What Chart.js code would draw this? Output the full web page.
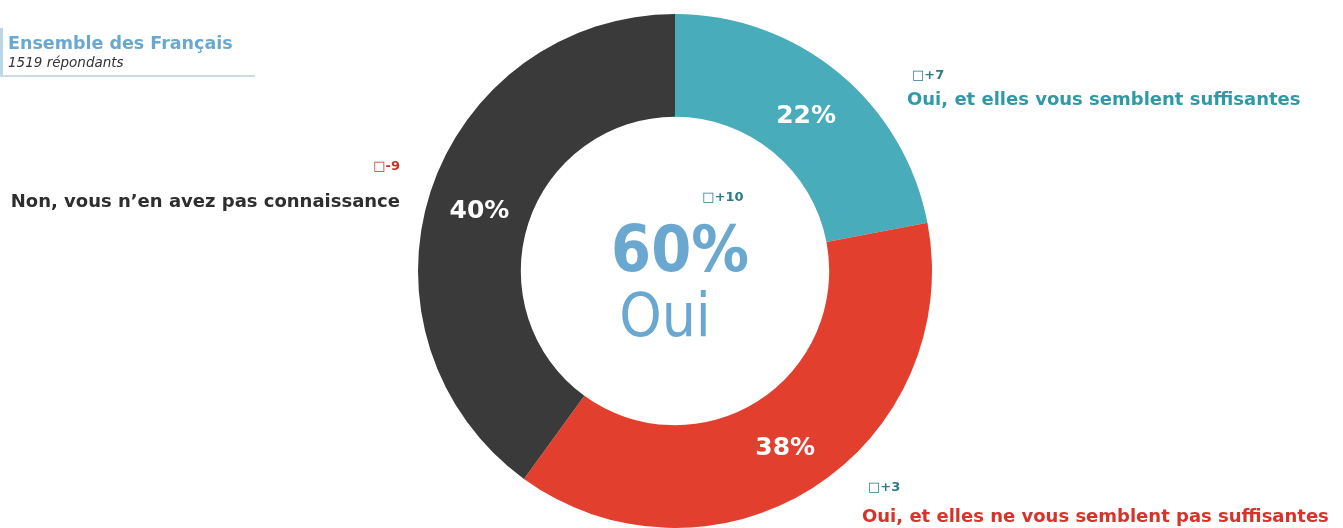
<!DOCTYPE html>
<html>
<head>
<meta charset="utf-8">
<script src="https://cdn.jsdelivr.net/npm/chart.js@4"></script>
<style>
    html, body { margin: 0; padding: 0; background: #ffffff; }
    #wrap { position: relative; width: 1343px; height: 528px; }
</style>
</head>
<body>
<div id="wrap"><canvas id="myChart" width="1343" height="528"></canvas></div>
<script>
const categories = [
    'Oui, et elles vous semblent suffisantes',
    'Oui, et elles ne vous semblent pas suffisantes',
    'Non, vous n\u2019en avez pas connaissance'
]
const shares = [22, 38, 40]
const deltas = ['+7', '+3', '-9']
const totalLabel = '60%'
const totalText = 'Oui'
const totalDelta = '+10'
const title = 'Ensemble des Fran\u00e7ais'
const subtitle = '1519 r\u00e9pondants'

const segmentColors = ['#48acbb', '#e23f2f', '#3b3a3b']
const labelColors = ['#2f9aa6', '#d7332b', '#2e2e2e']
const deltaColors = ['#2a7c87', '#2a7c87', '#c9302a']
const FONT = '"DejaVu Sans", sans-serif'
const FONT_COND = '"DejaVu Sans Condensed", "DejaVu Sans", sans-serif'

// where each outer label goes
const outerLabels = [
    {x: 907, y: 105, dx: 912, dy: 79, align: 'left'},
    {x: 862, y: 522, dx: 868, dy: 491, align: 'left'},
    {x: 400, y: 207, dx: 400, dy: 170, align: 'right'}
]

const labelsPlugin = {
    id: 'labelsPlugin',
    afterDraw(chart) {
        const ctx = chart.ctx
        const meta = chart.getDatasetMeta(0)
        ctx.save()

        // percentages inside the ring
        ctx.fillStyle = '#ffffff'
        ctx.font = 'bold 25px ' + FONT
        ctx.textAlign = 'center'
        ctx.textBaseline = 'middle'
        meta.data.forEach((arc, i) => {
            const p = arc.tooltipPosition()
            ctx.fillText(shares[i] + '%', p.x, p.y + 4)
        })

        // outer labels
        ctx.textBaseline = 'alphabetic'
        categories.forEach((label, i) => {
            const o = outerLabels[i]
            ctx.textAlign = o.align
            ctx.fillStyle = labelColors[i]
            ctx.font = 'bold 18px ' + FONT
            ctx.fillText(label, o.x, o.y)
            ctx.fillStyle = deltaColors[i]
            ctx.font = 'bold 13px ' + FONT
            ctx.fillText('\u25a1' + deltas[i], o.dx, o.dy)
        })

        // centre
        const c = meta.data[0]
        ctx.textAlign = 'center'
        ctx.fillStyle = '#2a7c87'
        ctx.font = 'bold 13px ' + FONT
        ctx.fillText('\u25a1' + totalDelta, c.x + 48, c.y - 70)
        ctx.fillStyle = '#6aa8d0'
        ctx.font = 'bold 64px ' + FONT_COND
        ctx.fillText(totalLabel, c.x + 5, c.y)
        ctx.font = '60px ' + FONT_COND
        ctx.fillText(totalText, c.x - 10, c.y + 65)

        // header
        ctx.fillStyle = '#b9d7e8'
        ctx.fillRect(0, 28, 3, 48)
        ctx.fillStyle = '#c8dbe6'
        ctx.fillRect(0, 75, 255, 2)
        ctx.textAlign = 'left'
        ctx.fillStyle = '#6aa8d0'
        ctx.font = 'bold 17.5px ' + FONT
        ctx.fillText(title, 8, 49)
        ctx.fillStyle = '#333333'
        ctx.font = 'italic 13.5px ' + FONT
        ctx.fillText(subtitle, 8, 67)

        ctx.restore()
    }
}

const element = document.getElementById('myChart')

const data = {
    labels: categories,
    datasets: [{
        data: shares,
        backgroundColor: segmentColors,
        borderWidth: 0
    }]
}

const options = {
    responsive: false,
    animation: false,
    cutout: '60%',
    layout: {
        padding: {left: 418, right: 411, top: 14, bottom: 0}
    },
    plugins: {
        legend: {display: false},
        tooltip: {enabled: false}
    }
}

new Chart(element, {
    type: 'doughnut',
    data: data,
    options: options,
    plugins: [labelsPlugin]
})
</script>
</body>
</html>
